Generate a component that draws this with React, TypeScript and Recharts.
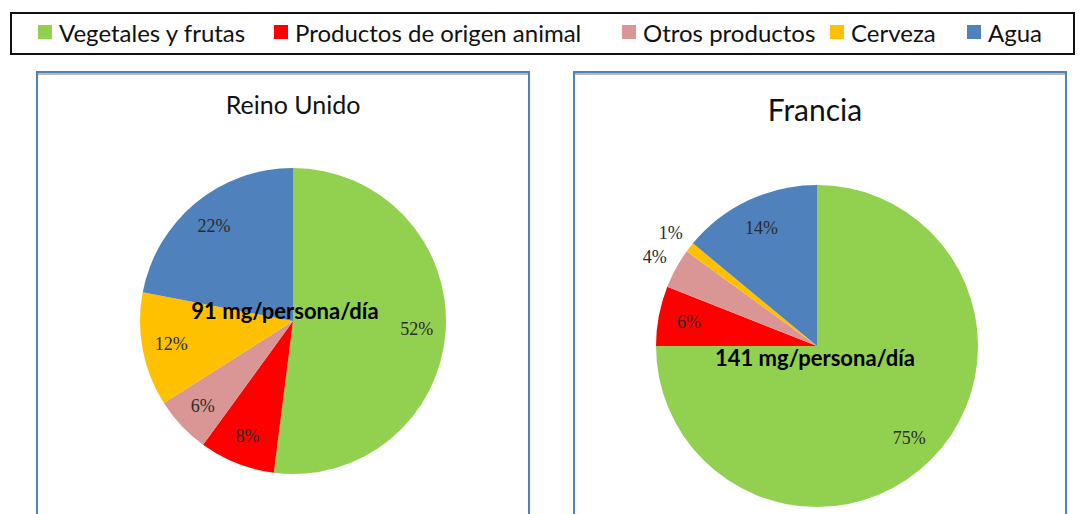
import React from "react";
import { PieChart, Pie, Cell } from "recharts";

const categories = [
  "Vegetales y frutas",
  "Productos de origen animal",
  "Otros productos",
  "Cerveza",
  "Agua",
];
const ukValues = [52, 8, 6, 12, 22];
const frValues = [75, 6, 4, 1, 14];
const COLORS = ["#92D050", "#FF0000", "#DA9694", "#FFC000", "#4F81BD"];
// legend item left edges (layout only)
const LEGEND_X = [26, 262, 610, 818, 955];

const ukData = categories.map((name, i) => ({ name, value: ukValues[i] }));
const frData = categories.map((name, i) => ({ name, value: frValues[i] }));

const renderLabel = (props: any) => {
  const { cx, cy, midAngle, outerRadius, value } = props;
  const RAD = Math.PI / 180;
  const r = value < 5 ? outerRadius * 1.15 : outerRadius * 0.81;
  const x = cx + r * Math.cos(-midAngle * RAD);
  const y = cy + r * Math.sin(-midAngle * RAD);
  return (
    <text
      x={x}
      y={y}
      fill="#2b2b2b"
      textAnchor="middle"
      dominantBaseline="central"
      fontFamily="'Liberation Serif', serif"
      fontSize={18}
    >
      {value}%
    </text>
  );
};

const panel = (left: number): React.CSSProperties => ({
  position: "absolute",
  left,
  top: 71,
  width: 490,
  height: 470,
  border: "2px solid #4F81BD",
  boxShadow: "inset 0 2px 0 #b8b8b8",
  background: "#fff",
});

export default function App() {
  return (
    <div
      style={{
        position: "absolute",
        left: 0,
        top: 0,
        width: 1081,
        height: 514,
        overflow: "hidden",
        background: "#fff",
        fontFamily: "Lato, 'Open Sans', sans-serif",
      }}
    >
      {/* legend */}
      <div
        style={{
          position: "absolute",
          left: 10,
          top: 12,
          width: 1061,
          height: 39,
          border: "2px solid #111",
        }}
      >
        {categories.map((c, i) => (
          <div
            key={c}
            style={{
              position: "absolute",
              left: LEGEND_X[i],
              top: 1,
              height: 34,
              display: "flex",
              alignItems: "center",
              whiteSpace: "nowrap",
            }}
          >
            <span
              style={{
                width: 14,
                height: 14,
                background: COLORS[i],
                marginRight: 7,
                display: "inline-block",
              }}
            />
            <span style={{ fontSize: 24, color: "#111" }}>{c}</span>
          </div>
        ))}
      </div>

      <div style={panel(36)} />
      <div style={panel(573)} />

      <div style={{ position: "absolute", left: 0, top: 0 }}>
        <PieChart width={1081} height={514} margin={{ top: 0, right: 0, bottom: 0, left: 0 }}>
          <Pie
            data={ukData}
            dataKey="value"
            cx={293}
            cy={321}
            outerRadius={153}
            startAngle={90}
            endAngle={-270}
            stroke="none"
            label={renderLabel}
            labelLine={false}
            isAnimationActive={false}
          >
            {ukData.map((d, i) => (
              <Cell key={d.name} fill={COLORS[i]} />
            ))}
          </Pie>
          <Pie
            data={frData}
            dataKey="value"
            cx={817}
            cy={346}
            outerRadius={161}
            startAngle={90}
            endAngle={-270}
            stroke="none"
            label={renderLabel}
            labelLine={false}
            isAnimationActive={false}
          >
            {frData.map((d, i) => (
              <Cell key={d.name} fill={COLORS[i]} />
            ))}
          </Pie>
        </PieChart>
      </div>

      {/* titles */}
      <div
        style={{
          position: "absolute",
          left: 143,
          width: 300,
          top: 89,
          textAlign: "center",
          fontSize: 25,
          color: "#111",
        }}
      >
        Reino Unido
      </div>
      <div
        style={{
          position: "absolute",
          left: 665,
          width: 300,
          top: 91,
          textAlign: "center",
          fontSize: 30,
          color: "#111",
        }}
      >
        Francia
      </div>

      {/* center totals */}
      <div
        style={{
          position: "absolute",
          left: 135,
          width: 300,
          top: 297,
          textAlign: "center",
          fontSize: 22,
          fontWeight: 700,
          color: "#000",
        }}
      >
        91 mg/persona/día
      </div>
      <div
        style={{
          position: "absolute",
          left: 665,
          width: 300,
          top: 344,
          textAlign: "center",
          fontSize: 22,
          fontWeight: 700,
          color: "#000",
        }}
      >
        141 mg/persona/día
      </div>
    </div>
  );
}
